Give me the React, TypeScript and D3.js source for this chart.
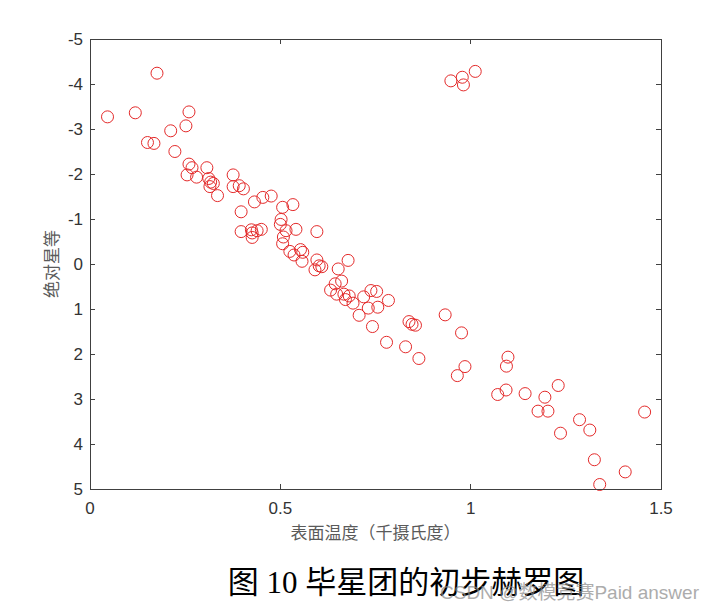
import React from 'react';
import * as d3 from 'd3';

// 表面温度（千摄氏度）
const temperature = [
  0.046, 0.176, 0.119, 0.260, 0.252, 0.212, 0.151, 0.168, 0.223, 0.260,
  0.268, 0.255, 0.280, 0.307, 0.312, 0.317, 0.324, 0.315, 0.335, 0.376,
  0.376, 0.392, 0.403, 0.432, 0.454, 0.476, 0.397, 0.506, 0.533, 0.502,
  0.500, 0.515, 0.541, 0.596, 0.397, 0.424, 0.426, 0.426, 0.439, 0.450,
  0.508, 0.506, 0.525, 0.536, 0.553, 0.559, 0.557, 0.596, 0.602, 0.609,
  0.591, 0.678, 0.652, 0.661, 0.644, 0.632, 0.648, 0.667, 0.671, 0.681,
  0.691, 0.719, 0.738, 0.753, 0.784, 0.731, 0.756, 0.707, 0.742, 0.838,
  0.846, 0.855, 0.779, 0.829, 0.933, 0.976, 0.864, 0.985, 0.965, 1.098,
  1.094, 1.093, 1.071, 1.143, 1.195, 1.230, 1.177, 1.203, 1.236, 1.286,
  1.313, 1.325, 1.406, 1.339, 1.457, 0.948, 0.978, 0.981, 1.012,
];

// 绝对星等
const magnitude = [
  -3.27, -4.24, -3.36, -3.38, -3.07, -2.96, -2.70, -2.68, -2.50, -2.22,
  -2.14, -1.98, -1.93, -2.14, -1.90, -1.82, -1.79, -1.72, -1.52, -1.98,
  -1.72, -1.74, -1.67, -1.38, -1.48, -1.51, -1.16, -1.26, -1.32, -0.99,
  -0.88, -0.74, -0.77, -0.72, -0.72, -0.76, -0.69, -0.59, -0.74, -0.77,
  -0.60, -0.45, -0.28, -0.20, -0.32, -0.26, -0.06, -0.09, 0.04, 0.06,
  0.13, -0.08, 0.11, 0.38, 0.44, 0.58, 0.67, 0.67, 0.79, 0.71,
  0.87, 0.73, 0.59, 0.61, 0.81, 0.98, 0.96, 1.14, 1.39, 1.28,
  1.34, 1.36, 1.74, 1.84, 1.13, 1.53, 2.10, 2.28, 2.48, 2.07,
  2.27, 2.80, 2.90, 2.88, 2.96, 2.70, 3.27, 3.27, 3.76, 3.46,
  3.69, 4.35, 4.62, 4.90, 3.29, -4.07, -4.15, -3.98, -4.28,
];

const xTicks = [0, 0.5, 1, 1.5];
const yTicks = [-5, -4, -3, -2, -1, 0, 1, 2, 3, 4, 5];

const xLabel = '表面温度（千摄氏度）';
const yLabel = '绝对星等';
const caption = '图 10 毕星团的初步赫罗图';
const watermark = 'CSDN @数模竞赛Paid answer';

const W = 718;
const H = 610;
const box = { left: 90, right: 661, top: 39, bottom: 489 };

const sans = "Arial, 'Liberation Sans', 'Noto Sans CJK SC', sans-serif";
const serif = "'Times New Roman', 'Liberation Serif', 'Noto Sans CJK SC', serif";

export default function App() {
  const x = d3.scaleLinear().domain([0, 1.5]).range([box.left, box.right]);
  const y = d3.scaleLinear().domain([-5, 5]).range([box.top, box.bottom]);
  const tickLen = 5;
  const axisColor = '#404040';

  const points = temperature.map((t, i) => ({ t, m: magnitude[i] }));

  return (
    <svg
      width={W}
      height={H}
      style={{ position: 'absolute', left: 0, top: 0, background: '#fff' }}
    >
      <rect x={0} y={0} width={W} height={H} fill="#fff" />

      {/* points */}
      <g fill="none" stroke="#e42a2a" strokeWidth={1}>
        {points.map((p, i) => (
          <circle key={i} cx={x(p.t)} cy={y(p.m)} r={6} />
        ))}
      </g>

      {/* box */}
      <rect
        x={box.left}
        y={box.top}
        width={box.right - box.left}
        height={box.bottom - box.top}
        fill="none"
        stroke={axisColor}
        strokeWidth={1}
        shapeRendering="crispEdges"
      />

      {/* ticks */}
      <g stroke={axisColor} shapeRendering="crispEdges">
        {xTicks.map((t) => (
          <g key={t}>
            <line x1={x(t)} x2={x(t)} y1={box.bottom} y2={box.bottom - tickLen} />
            <line x1={x(t)} x2={x(t)} y1={box.top} y2={box.top + tickLen} />
          </g>
        ))}
        {yTicks.map((t) => (
          <g key={t}>
            <line x1={box.left} x2={box.left + tickLen} y1={y(t)} y2={y(t)} />
            <line x1={box.right} x2={box.right - tickLen} y1={y(t)} y2={y(t)} />
          </g>
        ))}
      </g>

      {/* tick labels */}
      <g fontFamily={sans} fontSize={17} fill="#333">
        {xTicks.map((t) => (
          <text key={t} x={x(t)} y={box.bottom + 25} textAnchor="middle">
            {d3.format('~g')(t)}
          </text>
        ))}
        {yTicks.map((t) => (
          <text
            key={t}
            x={box.left - 7}
            y={y(t)}
            textAnchor="end"
            dominantBaseline="central"
          >
            {t}
          </text>
        ))}
      </g>

      {/* axis labels */}
      <text
        x={(box.left + box.right) / 2}
        y={box.bottom + 50}
        textAnchor="middle"
        fontFamily={sans}
        fontSize={17}
        fill="#5a5a5a"
      >
        {xLabel}
      </text>
      <text
        transform={`translate(52, ${(box.top + box.bottom) / 2}) rotate(-90)`}
        textAnchor="middle"
        dominantBaseline="central"
        fontFamily={sans}
        fontSize={17}
        fill="#5a5a5a"
      >
        {yLabel}
      </text>

      {/* caption with watermark over it, as in the source image */}
      <text
        x={406}
        y={593}
        textAnchor="middle"
        fontFamily={serif}
        fontSize={31}
        fill="#000"
      >
        {caption}
      </text>
      <text
        x={440}
        y={599}
        fontFamily={sans}
        fontSize={19}
        fill="#8a8a8a"
        opacity={0.7}
      >
        {watermark}
      </text>
    </svg>
  );
}
